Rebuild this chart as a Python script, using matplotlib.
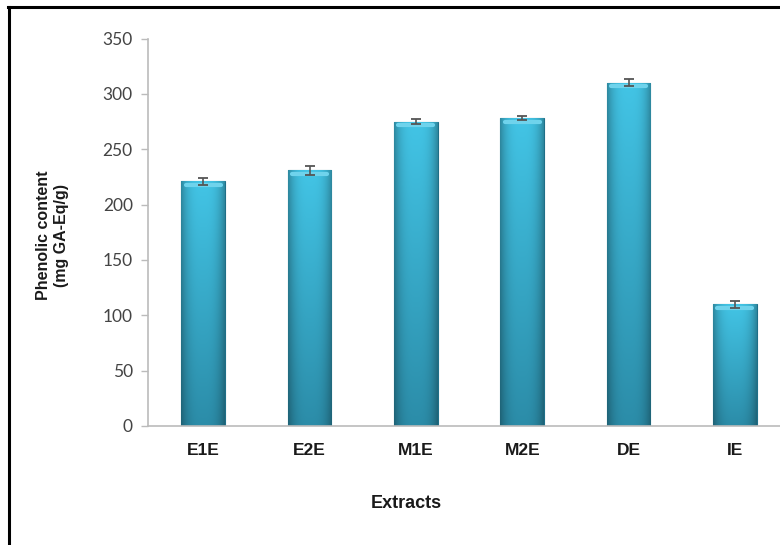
import numpy as np
import matplotlib
matplotlib.use("Agg")
import matplotlib.pyplot as plt
from matplotlib.lines import Line2D

extracts = ["E1E", "E2E", "M1E", "M2E", "DE", "IE"]
phenolic = [221, 231, 275, 278, 310, 110]
errors = [3, 4, 2, 2, 3, 3]
yticks = [0, 50, 100, 150, 200, 250, 300, 350]

fig = plt.figure(figsize=(7.8, 5.45), dpi=100)
ax = fig.add_axes([148 / 780, 1 - 426 / 545, 640 / 780, 387.5 / 545])

x = np.arange(len(extracts))
bar_w = 0.41
bars = ax.bar(x, phenolic, width=bar_w, color="#34a9cc", edgecolor="#1f6f88",
              linewidth=0.8, zorder=2)

# shaded fill: darker at the sides and towards the bottom
h = np.linspace(0, 1, 64)
side = 1 - 0.3 * np.abs(2 * h - 1) ** 3
v = np.linspace(0, 1, 128)[:, None]
top_col = np.array([0.26, 0.77, 0.90])
bot_col = np.array([0.17, 0.55, 0.66])
grad = (bot_col * (1 - v) + top_col * v)[:, None, :].repeat(64, axis=1)
grad = grad.reshape(128, 64, 3) * side[None, :, None]
grad = np.clip(grad, 0, 1)
for rect in bars:
    bx, by = rect.get_x(), rect.get_y()
    bw, bh = rect.get_width(), rect.get_height()
    im = ax.imshow(grad, extent=[bx, bx + bw, by, by + bh], origin="lower",
                   aspect="auto", zorder=2.5)
    im.set_clip_path(rect)
    # light bevel at the top of each bar
    ax.plot([bx + bw * 0.1, bx + bw * 0.9], [by + bh - 3, by + bh - 3],
            color="#6fd3ec", lw=3, solid_capstyle="round", zorder=2.6)

ax.errorbar(x, phenolic, yerr=errors, fmt="none", ecolor="#555555",
            elinewidth=1.2, capsize=3.5, capthick=1.3, zorder=3)

ax.set_xlim(-0.52, 5.5)
ax.set_ylim(0, 350)
ax.set_yticks(yticks)
ax.set_xticks(x)
ax.set_xticklabels(extracts, fontfamily="Liberation Sans", fontweight="bold",
                   fontsize=12.5, color="#1a1a1a")
ax.set_yticklabels([str(t) for t in yticks], fontfamily="Lato",
                   fontsize=12.5, color="#444444")
ax.tick_params(axis="x", length=0, pad=12)
ax.tick_params(axis="y", length=5, width=1, color="#bbbbbb", pad=6)
for s in ["top", "right"]:
    ax.spines[s].set_visible(False)
for s in ["left", "bottom"]:
    ax.spines[s].set_color("#bbbbbb")
    ax.spines[s].set_linewidth(1.2)

fig.text(406 / 780, 1 - 503 / 545, "Extracts", ha="center", va="center",
         fontfamily="Liberation Sans", fontweight="bold", fontsize=13,
         color="#1a1a1a")
fig.text(53 / 780, 1 - 235 / 545, "Phenolic content\n(mg GA-Eq/g)",
         rotation=90, ha="center", va="center", multialignment="center",
         fontfamily="Liberation Sans", fontweight="bold", fontsize=11.5,
         color="#1a1a1a", linespacing=1.25)

# outer frame (left and top edges)
fig.add_artist(Line2D([9 / 780, 9 / 780], [0, 1 - 6.5 / 545],
                      transform=fig.transFigure, color="black", lw=2.2))
fig.add_artist(Line2D([8 / 780, 1], [1 - 6.5 / 545, 1 - 6.5 / 545],
                      transform=fig.transFigure, color="black", lw=2.2))

fig.savefig("out.png", dpi=100)
